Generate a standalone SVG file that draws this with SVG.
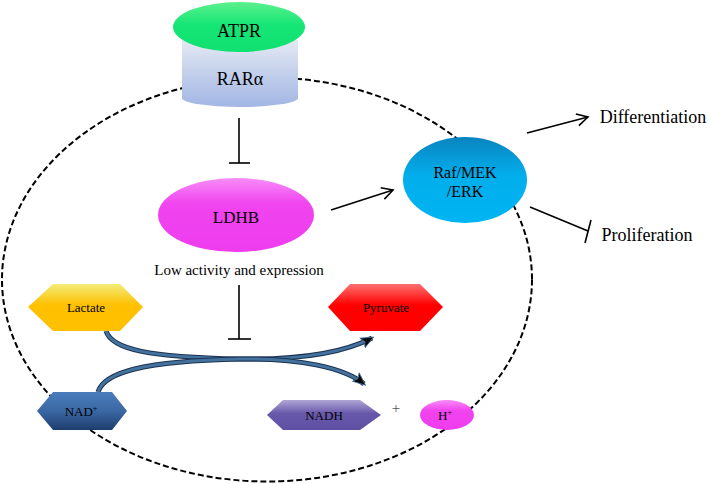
<svg xmlns="http://www.w3.org/2000/svg" width="709" height="484" viewBox="0 0 709 484">
<style>
text{font-family:'Liberation Serif','DejaVu Serif','Times New Roman',Times,serif;fill:#000;text-anchor:middle}
.line{stroke:#000;stroke-width:1.6;fill:none}
.curveBase{stroke:#1c3350;stroke-width:5;fill:none}
.curveTop{stroke:#44729f;stroke-width:3;fill:none}
</style>
<defs>
<linearGradient id="gGreen" x1="0" y1="0" x2="0" y2="1"><stop offset="0" stop-color="#5cf08e"/><stop offset="0.45" stop-color="#16e676"/><stop offset="1" stop-color="#10e070"/></linearGradient>
<linearGradient id="gRar" x1="0" y1="0" x2="0" y2="1"><stop offset="0" stop-color="#e4e9f3"/><stop offset="1" stop-color="#a2b6e4"/></linearGradient>
<linearGradient id="gMag" x1="0" y1="0" x2="0" y2="1"><stop offset="0" stop-color="#f78cf7"/><stop offset="0.35" stop-color="#f044ef"/><stop offset="1" stop-color="#ee3cee"/></linearGradient>
<linearGradient id="gBlue" x1="0" y1="0" x2="0" y2="1"><stop offset="0" stop-color="#0a84c0"/><stop offset="0.45" stop-color="#02aeec"/><stop offset="1" stop-color="#00b4f2"/></linearGradient>
<linearGradient id="gYel" x1="0" y1="0" x2="0" y2="1"><stop offset="0" stop-color="#f2ec78"/><stop offset="0.45" stop-color="#ffc000"/><stop offset="1" stop-color="#ffc000"/></linearGradient>
<linearGradient id="gRed" x1="0" y1="0" x2="0" y2="1"><stop offset="0" stop-color="#ff7070"/><stop offset="0.45" stop-color="#ff0000"/><stop offset="1" stop-color="#ff0000"/></linearGradient>
<linearGradient id="gNad" x1="0" y1="0" x2="0" y2="1"><stop offset="0" stop-color="#4a7cbc"/><stop offset="0.5" stop-color="#3b68a4"/><stop offset="1" stop-color="#1e3d6c"/></linearGradient>
<linearGradient id="gNadh" x1="0" y1="0" x2="0" y2="1"><stop offset="0" stop-color="#b0a6d6"/><stop offset="0.45" stop-color="#6858aa"/><stop offset="1" stop-color="#6050a4"/></linearGradient>
<marker id="open" markerUnits="userSpaceOnUse" markerWidth="16" markerHeight="16" refX="12" refY="8" orient="auto"><path d="M1,2 L12,8 L1,14" fill="none" stroke="#000" stroke-width="1.6"/></marker>
<marker id="fat" markerUnits="userSpaceOnUse" markerWidth="16" markerHeight="14" refX="11" refY="7" orient="auto"><path d="M0,1.5 L13,7 L0,12.5 L3,7 Z" fill="#0a0a0a" stroke="#44729f" stroke-width="0.8"/></marker>
</defs>

<ellipse id="cell" cx="267" cy="279.5" rx="265" ry="202" fill="none" stroke="#000" stroke-width="2" stroke-dasharray="6,3"/>

<g id="connectors">
<line class="line" x1="239" y1="118" x2="239" y2="163"/>
<line class="line" x1="229" y1="163" x2="250" y2="163"/>
<line class="line" x1="331" y1="210" x2="393" y2="190" marker-end="url(#open)"/>
<line class="line" x1="527" y1="133" x2="588" y2="117" marker-end="url(#open)"/>
<line class="line" x1="530" y1="207" x2="588" y2="231"/>
<line class="line" x1="591" y1="220" x2="585" y2="243"/>
<line class="line" x1="239" y1="285" x2="239" y2="339"/>
<line class="line" x1="228" y1="339" x2="251" y2="339"/>
<path class="curveBase" d="M106,331 C112,350 150,357 240,359 C300,360 345,352 372,338"/>
<path class="curveTop" d="M106,331 C112,350 150,357 240,359 C300,360 345,352 372,338" marker-end="url(#fat)"/>
<path class="curveBase" d="M98,392 C104,372 145,361 240,359 C300,358 345,368 364,384"/>
<path class="curveTop" d="M98,392 C104,372 145,361 240,359 C300,358 345,368 364,384" marker-end="url(#fat)"/>
</g>

<g id="rar">
<path d="M182,40 L182,98 A58,9 0 0 0 298,98 L298,40 Z" fill="url(#gRar)"/>
<text x="240" y="85" font-size="18">RARα</text>
</g>
<g id="atpr">
<ellipse cx="239" cy="27" rx="66" ry="25" fill="url(#gGreen)"/>
<text x="239" y="37" font-size="18">ATPR</text>
</g>
<g id="ldhb">
<ellipse cx="236" cy="215" rx="78" ry="37" fill="url(#gMag)"/>
<text x="236" y="223" font-size="17">LDHB</text>
<text x="239" y="275" font-size="15">Low activity and expression</text>
</g>
<g id="raf">
<ellipse cx="465" cy="180" rx="62" ry="43" fill="url(#gBlue)"/>
<text x="465" y="178" font-size="16">Raf/MEK</text>
<text x="465" y="197" font-size="16">/ERK</text>
</g>
<g id="differentiation"><text x="653" y="123" font-size="18">Differentiation</text></g>
<g id="proliferation"><text x="647" y="241" font-size="18">Proliferation</text></g>
<g id="lactate">
<polygon points="28,307 53,284 120,284 143,307 120,331 53,331" fill="url(#gYel)"/>
<text x="86" y="312" font-size="13">Lactate</text>
</g>
<g id="pyruvate">
<polygon points="328,307 350,284 420,284 443,307 420,331 350,331" fill="url(#gRed)"/>
<text x="386" y="312" font-size="13">Pyruvate</text>
</g>
<g id="nad">
<polygon points="37,411 53,392 112,392 127,411 112,430 53,430" fill="url(#gNad)"/>
<text x="81" y="416" font-size="13">NAD<tspan font-size="8" dy="-5">+</tspan></text>
</g>
<g id="nadh">
<polygon points="267,415 283,400 360,400 381,415 360,430 283,430" fill="url(#gNadh)"/>
<text x="324" y="420" font-size="13">NADH</text>
</g>
<g id="plus"><text x="396" y="413" font-size="15" style="fill:#555">+</text></g>
<g id="hplus">
<ellipse cx="447" cy="415" rx="27" ry="15" fill="url(#gMag)"/>
<text x="445" y="420" font-size="13">H<tspan font-size="8" dy="-5">+</tspan></text>
</g>
</svg>
